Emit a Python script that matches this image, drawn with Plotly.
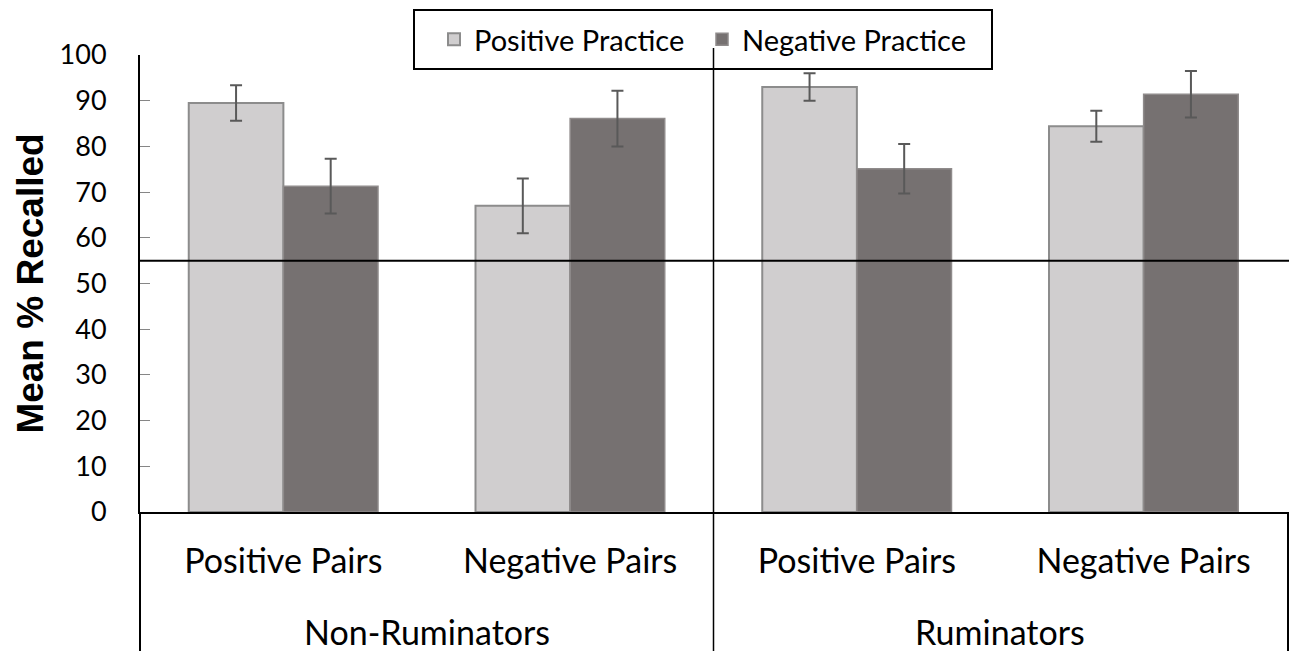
import plotly.graph_objects as go

# ---------------- data ----------------
groups = ["Non-Ruminators", "Ruminators"]
pairs = ["Positive Pairs", "Negative Pairs"]
series_names = ["Positive Practice", "Negative Practice"]
positive_practice = [89.5, 67.0, 93.0, 84.4]
negative_practice = [71.3, 86.1, 75.1, 91.4]
positive_err = [3.9, 6.0, 3.0, 3.4]
negative_err = [6.0, 6.1, 5.4, 5.1]
chance_level = 55
y_ticks = list(range(0, 101, 10))

# category positions (one per group x pair)
x_pos = list(range(len(groups) * len(pairs)))
x_labels = [p for g in groups for p in pairs]

# ---------------- layout helpers ----------------
W, H = 1289, 651
ML, MR, MT, MB = 140, 2, 55, 139
PW, PH = W - ML - MR, H - MT - MB


def px_x(px):
    return (px - ML) / PW


def px_y(py):
    return (H - MB - py) / PH


FONT = "Lato, 'Open Sans', sans-serif"
LIGHT = "#D0CECF"
DARK = "#767171"
EDGE = "#8C8C8C"
ERR = "#595959"

fig = go.Figure()
fig.add_trace(go.Bar(
    x=x_pos, y=positive_practice, name=series_names[0],
    marker=dict(color=LIGHT, line=dict(color=EDGE, width=2)),
    error_y=dict(type="data", array=positive_err, color=ERR, thickness=2, width=6),
))
fig.add_trace(go.Bar(
    x=x_pos, y=negative_practice, name=series_names[1],
    marker=dict(color=DARK, line=dict(color="#8F8B8B", width=1.5)),
    error_y=dict(type="data", array=negative_err, color=ERR, thickness=2, width=6),
))

shapes = [
    # chance line
    dict(type="line", xref="paper", yref="y", x0=0, x1=1.002, y0=chance_level, y1=chance_level,
         line=dict(color="black", width=2)),
    # group divider
    dict(type="line", xref="x", yref="paper", x0=1.5, x1=1.5, y0=px_y(H), y1=px_y(48),
         line=dict(color="black", width=1.5)),
    # box left / right edges below axis
    dict(type="line", xref="paper", yref="paper", x0=0, x1=0, y0=px_y(H), y1=0,
         line=dict(color="black", width=2)),
    dict(type="line", xref="paper", yref="paper", x0=px_x(1288), x1=px_x(1288), y0=px_y(H), y1=0,
         line=dict(color="black", width=2)),
    # legend box
    dict(type="rect", xref="paper", yref="paper", x0=px_x(414), x1=px_x(992),
         y0=px_y(69), y1=px_y(10), line=dict(color="black", width=2), fillcolor="rgba(0,0,0,0)"),
]

annotations = []
for gi, g in enumerate(groups):
    idx = [gi * len(pairs) + k for k in range(len(pairs))]
    annotations.append(dict(
        x=sum(idx) / len(idx), xref="x", y=px_y(631), yref="paper",
        text=g, showarrow=False, yanchor="middle", xanchor="center",
        font=dict(family=FONT, size=34, color="black"),
    ))

fig.update_layout(
    width=W, height=H,
    margin=dict(l=ML, r=MR, t=MT, b=MB, autoexpand=False),
    paper_bgcolor="white", plot_bgcolor="white",
    barmode="group", bargap=0.34, bargroupgap=0,
    font=dict(family=FONT, color="black"),
    showlegend=True,
    legend=dict(
        orientation="h", x=px_x(434), xanchor="left", y=px_y(39.5), yanchor="middle",
        font=dict(family=FONT, size=29, color="black"),
        bgcolor="rgba(0,0,0,0)", borderwidth=0, entrywidth=223,
        traceorder="normal",
    ),
    shapes=shapes,
    annotations=annotations,
    xaxis=dict(
        range=[-0.5, len(x_pos) - 0.5], tickvals=x_pos, ticktext=x_labels,
        showline=True, linecolor="black", linewidth=2, ticks="", showgrid=False,
        zeroline=False, tickfont=dict(family=FONT, size=34, color="black"),
        ticklabelstandoff=18, fixedrange=True,
    ),
    yaxis=dict(
        range=[0, 100], tickvals=y_ticks, showline=True, linecolor="black", linewidth=2,
        ticks="inside", ticklen=10, tickcolor="#868686", tickwidth=1,
        showgrid=False, zeroline=False,
        tickfont=dict(family=FONT, size=27, color="black"), ticklabelstandoff=26,
        title=dict(text="<b>Mean % Recalled</b>", standoff=5,
                   font=dict(family="'Liberation Sans', Arial, sans-serif", size=37, color="black")),
        automargin=False, fixedrange=True,
    ),
)

fig.write_html(
    "out.html",
    config={"displayModeBar": False},
    post_script="document.body.style.margin='0';document.body.style.padding='0';"
                "document.body.style.overflow='hidden';",
)
